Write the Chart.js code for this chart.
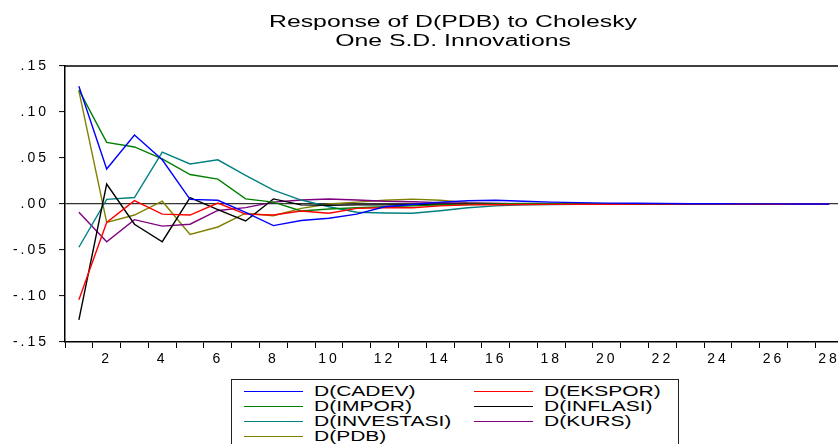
<!DOCTYPE html>
<html>
<head>
<meta charset="utf-8">
<script src="https://cdn.jsdelivr.net/npm/chart.js@4.4.1/dist/chart.umd.min.js"></script>
<style>
  html, body { margin: 0; padding: 0; background: #fff; overflow: hidden; }
  #wrap { position: relative; width: 838px; height: 444px; overflow: hidden; }
  #box { position: absolute; left: 0; top: 0; width: 880px; height: 444px; }
  .title { position: absolute; left: 453px; width: 0; white-space: nowrap;
           font: 16px "Liberation Sans", Arial, sans-serif; color: #000; line-height: 18px; }
  .title span { display: inline-block; transform: translateX(-50%) scaleX(1.55); transform-origin: 50% 0; }
  #legend { position: absolute; left: 231px; top: 379px; width: 446px; height: 80px;
            border: 1px solid #222; border-top-width: 1.5px; background: #fff; }
  .item { position: absolute; height: 15px; }
  .item i { position: absolute; top: 7px; width: 59px; height: 1px; }
  .item b { position: absolute; left: 70px; top: 0; font: 14px "Liberation Sans", Arial, sans-serif;
            font-weight: normal; line-height: 15px; white-space: nowrap; color: #000;
            transform: scaleX(1.5); transform-origin: left top; }
</style>
</head>
<body>
<div id="wrap">
  <div id="box"><canvas id="irf" width="880" height="444"></canvas></div>
  <div class="title" style="top:13px"><span id="t1"></span></div>
  <div class="title" style="top:32px"><span id="t2"></span></div>
  <div id="legend"></div>
</div>
<script>
// periods 1..28
var periods = ['1','2','3','4','5','6','7','8','9','10','11','12','13','14',
               '15','16','17','18','19','20','21','22','23','24','25','26','27','28'];

var cadev = [0.128, 0.038, 0.075, 0.048, 0.005, 0.004, -0.009, -0.0235, -0.018, -0.0155,
             -0.011, -0.003, -0.0005, 0.002, 0.0035, 0.004, 0.003, 0.002, 0.0015, 0.001,
             0.0008, 0.0005, 0.0003, 0.0002, 0.0001, 0.0001, 0.0, 0.0];
var ekspor = [-0.104, -0.020, 0.0036, -0.011, -0.012, 0.001, -0.011, -0.012, -0.0076, -0.010,
              -0.0047, -0.004, -0.004, -0.002, -0.001, -0.0008, -0.0006, -0.0004, -0.0003, -0.0002,
              -0.0001, -0.0001, 0.0, 0.0, 0.0, 0.0, 0.0, 0.0];
var impor = [0.124, 0.067, 0.062, 0.049, 0.032, 0.027, 0.0055, 0.002, -0.0076, -0.0054,
             -0.004, -0.003, -0.002, -0.001, -0.0005, 0.0, 0.0005, 0.0005, 0.0003, 0.0002,
             0.0001, 0.0, 0.0, 0.0, 0.0, 0.0, 0.0, 0.0];
var inflasi = [-0.126, 0.0217, -0.022, -0.041, 0.007, -0.006, -0.0185, 0.0055, -0.001, -0.0013,
               -0.001, -0.001, -0.0008, -0.0005, -0.0003, -0.0002, -0.0001, 0.0, 0.0, 0.0,
               0.0, 0.0, 0.0, 0.0, 0.0, 0.0, 0.0, 0.0];
var investasi = [-0.047, 0.005, 0.007, 0.0565, 0.0435, 0.048, 0.031, 0.015, 0.0043, -0.003,
                 -0.009, -0.0098, -0.010, -0.0073, -0.004, -0.002, -0.001, -0.0005, -0.0003, -0.0002,
                 -0.0001, 0.0, 0.0, 0.0, 0.0, 0.0, 0.0, 0.0];
var kurs = [-0.009, -0.041, -0.017, -0.024, -0.022, -0.007, -0.004, 0.002, 0.0043, 0.0054,
            0.0043, 0.003, 0.0025, 0.0015, 0.001, 0.0005, 0.0003, 0.0002, 0.0001, 0.0,
            0.0, 0.0, 0.0, 0.0, 0.0, 0.0, 0.0, 0.0];
var pdb = [0.123, -0.020, -0.012, 0.003, -0.033, -0.025, -0.010, -0.0127, -0.0047, 0.0,
           0.002, 0.004, 0.0053, 0.004, 0.0015, 0.0005, 0.0, -0.0003, -0.0002, -0.0001,
           0.0, 0.0, 0.0, 0.0, 0.0, 0.0, 0.0, 0.0];

var yTicks = [-0.15, -0.10, -0.05, 0.00, 0.05, 0.10, 0.15];

var titleLines = ['Response of D(PDB) to Cholesky', 'One S.D. Innovations'];

var series = [
  { label: 'D(CADEV)',     data: cadev,     color: '#0000ff' },
  { label: 'D(EKSPOR)',    data: ekspor,    color: '#ff0000' },
  { label: 'D(IMPOR)',     data: impor,     color: '#008000' },
  { label: 'D(INFLASI)',   data: inflasi,   color: '#000000' },
  { label: 'D(INVESTASI)', data: investasi, color: '#008080' },
  { label: 'D(KURS)',      data: kurs,      color: '#800080' },
  { label: 'D(PDB)',       data: pdb,       color: '#808000' }
];

document.getElementById('t1').textContent = titleLines[0];
document.getElementById('t2').textContent = titleLines[1];

// two-column legend box under the plot
var legend = document.getElementById('legend');
series.forEach(function(s, i) {
  var col = i % 2, row = Math.floor(i / 2);
  var el = document.createElement('div');
  el.className = 'item';
  el.style.left = (col ? 242 : 12) + 'px';
  el.style.top = (4 + row * 15) + 'px';
  var ln = document.createElement('i');
  ln.style.background = s.color;
  var tx = document.createElement('b');
  tx.textContent = s.label;
  el.appendChild(ln);
  el.appendChild(tx);
  legend.appendChild(el);
});

function fmt(v) {
  var n = Math.round(v * 100);
  var s = (Math.abs(n) < 10 ? '0' : '') + Math.abs(n);
  return (n < 0 ? '-' : '') + '.' + s;
}

// frame line along the top of the plot, wide tick text
var frame = {
  id: 'frame',
  beforeDraw: function(chart) { chart.ctx.letterSpacing = '3px'; },
  afterDraw: function(chart) {
    var a = chart.chartArea, ctx = chart.ctx;
    ctx.save();
    ctx.letterSpacing = '0px';
    ctx.strokeStyle = '#000';
    ctx.lineWidth = 1.5;
    ctx.beginPath();
    ctx.moveTo(a.left, a.top);
    ctx.lineTo(a.right, a.top);
    ctx.stroke();
    ctx.restore();
    ctx.letterSpacing = '0px';
  }
};

new Chart(document.getElementById('irf'), {
  type: 'line',
  data: {
    labels: periods,
    datasets: series.map(function(s) {
      return {
        label: s.label,
        data: s.data,
        borderColor: s.color,
        backgroundColor: s.color,
        borderWidth: 1.4,
        pointRadius: 0,
        tension: 0,
        fill: false
      };
    })
  },
  options: {
    responsive: false,
    animation: false,
    layout: { padding: { left: 0, top: 66, right: 37, bottom: 0 } },
    plugins: { legend: { display: false }, title: { display: false }, tooltip: { enabled: false } },
    scales: {
      x: {
        type: 'category',
        offset: true,
        afterFit: function(s) { s.height = 102; },
        border: { display: true, color: '#000', width: 1.5 },
        grid: { offset: true, drawOnChartArea: false, drawTicks: true, tickLength: 6,
                tickColor: '#000', tickWidth: 1 },
        ticks: {
          autoSkip: false, maxRotation: 0, padding: 3, color: '#000',
          font: { family: '"Liberation Sans", Arial, sans-serif', size: 14 },
          callback: function(v, i) { return (i + 1) % 2 === 0 ? periods[i] : ''; }
        }
      },
      y: {
        min: -0.15,
        max: 0.15,
        afterFit: function(s) { s.width = 65; },
        afterBuildTicks: function(s) { s.ticks = yTicks.map(function(v) { return { value: v }; }); },
        border: { display: true, color: '#000', width: 1.5 },
        grid: {
          drawOnChartArea: true, drawTicks: true, tickLength: 6, tickColor: '#000', tickWidth: 1,
          color: function(c) { return c.tick && Math.abs(c.tick.value) < 1e-9 ? '#333' : 'rgba(0,0,0,0)'; },
          lineWidth: 1.2
        },
        ticks: {
          padding: 10, color: '#000',
          font: { family: '"Liberation Sans", Arial, sans-serif', size: 14 },
          callback: function(v) { return fmt(v); }
        }
      }
    }
  },
  plugins: [frame]
});
</script>
</body>
</html>
